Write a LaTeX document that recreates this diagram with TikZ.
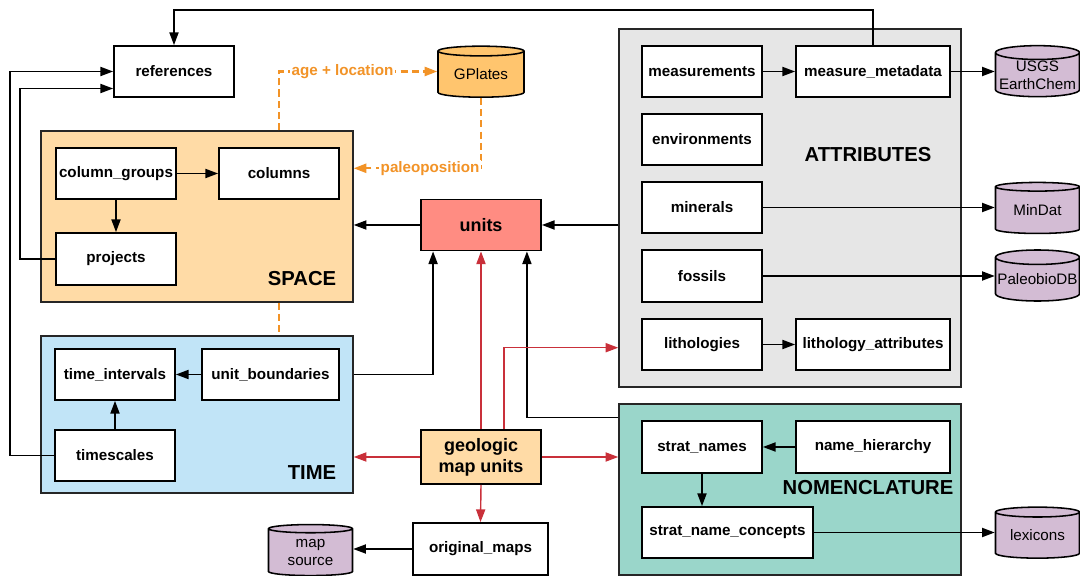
\documentclass[tikz,border=0pt]{standalone}
\usepackage{fontspec}
\setmainfont{Liberation Sans}
\usetikzlibrary{shapes.geometric,arrows.meta,calc}
\definecolor{spaceC}{HTML}{FFDBA6}
\definecolor{timeC}{HTML}{C1E4F7}
\definecolor{attrC}{HTML}{E6E6E6}
\definecolor{nomenC}{HTML}{9AD6CA}
\definecolor{unitsC}{HTML}{FF8C82}
\definecolor{plateC}{HTML}{FFC56E}
\definecolor{dbC}{HTML}{D3BCD4}
\definecolor{orgC}{HTML}{F29327}
\definecolor{redC}{HTML}{C9303A}

\begin{document}
\begin{tikzpicture}[x=0.025cm, y=-0.025cm]
  \tikzset{tbl/.style={draw, line width=1.3pt, fill=white, minimum width=3cm, minimum height=1.275cm, inner sep=1pt, font=\fontsize{10.8}{13}\selectfont\bfseries},
    grp/.style={draw=black!85, line width=1pt, inner sep=0pt},
    grpLbl/.style={font=\fontsize{14.4}{16}\selectfont\bfseries},
    db/.style={cylinder, shape border rotate=90, aspect=0.18, draw, line width=1.1pt, fill=dbC, minimum width=2.1cm, minimum height=1.275cm, inner sep=0pt, align=center, font=\fontsize{10.8}{13}\selectfont},
    arr/.style={line width=1pt, -{Triangle[length=9pt,width=6.5pt]}},
    redArr/.style={arr, draw=redC},
    orgLine/.style={draw=orgC, line width=1.6pt, dash pattern=on 5pt off 3pt},
    orgLbl/.style={fill=white, text=orgC, inner sep=1pt, font=\fontsize{10.8}{13}\selectfont\bfseries}}
  \useasboundingbox (0,0) rectangle (1080,576);
  % groepen
  \node[grp, fill=spaceC, minimum width=7.8cm, minimum height=4.275cm] (space) at (197,216.5) {};
  \node[grp, fill=timeC, minimum width=7.8cm, minimum height=3.925cm] (time) at (197,414.5) {};
  \node[grp, fill=attrC, minimum width=8.55cm, minimum height=8.95cm] (attr) at (790,208) {};
  \node[grp, fill=nomenC, minimum width=8.55cm, minimum height=4.275cm] (nomen) at (790,489.5) {};
  \node[grpLbl] (spaceLbl) at (302,279) {SPACE};
  \node[grpLbl] (timeLbl) at (312,473) {TIME};
  \node[grpLbl] (attrLbl) at (868,155) {ATTRIBUTES};
  \node[grpLbl] (nomenLbl) at (868,488) {NOMENCLATURE};
  % tabellen
  \node[tbl] (refs) at (174,71.5) {references};
  \node[tbl] (colGroups) at (116,173.5) {column\_groups};
  \node[tbl] (cols) at (279,173.5) {columns};
  \node[tbl, minimum height=1.3cm] (proj) at (116,259) {projects};
  \node[tbl, fill=unitsC, font=\fontsize{12.8}{15}\selectfont\bfseries] (units) at (481,225) {units};
  \node[tbl] (tInt) at (115,374.5) {time\_intervals};
  \node[tbl, minimum width=3.425cm] (uBound) at (270.5,374.5) {unit\_boundaries};
  \node[tbl] (tScale) at (115,455.5) {timescales};
  \node[tbl, fill=spaceC, minimum height=1.35cm, align=center, font=\fontsize{12.8}{15}\selectfont\bfseries] (gmu) at (481,457) {geologic\\map units};
  \node[tbl, minimum width=3.375cm, minimum height=1.3cm] (oMaps) at (480.5,549) {original\_maps};
  \node[tbl] (meas) at (702,71.5) {measurements};
  \node[tbl, minimum width=3.85cm] (measMeta) at (873,71.5) {measure\_metadata};
  \node[tbl] (env) at (702,139.5) {environments};
  \node[tbl] (minerals) at (702,207.5) {minerals};
  \node[tbl, minimum height=1.3cm] (fossils) at (702,276) {fossils};
  \node[tbl] (lith) at (702,344.5) {lithologies};
  \node[tbl, minimum width=3.85cm] (lithAttr) at (873,344.5) {lithology\_attributes};
  \node[tbl, minimum height=1.3cm] (sNames) at (702,447) {strat\_names};
  \node[tbl, minimum width=3.85cm, minimum height=1.3cm] (nHier) at (873,447) {name\_hierarchy};
  \node[tbl, minimum width=4.275cm] (sConc) at (727.5,532.5) {strat\_name\_concepts};
  % databronnen
  \node[db, fill=plateC, minimum width=2.15cm] (gplates) at (481,74.5) {GPlates};
  \node[db] (usgs) at (1037.5,75) {USGS\\EarthChem};
  \node[db] (minDat) at (1037.5,210.5) {MinDat};
  \node[db] (pbdb) at (1037.5,279.5) {PaleobioDB};
  \node[db] (lexicons) at (1037.5,535.5) {lexicons};
  \node[db] (mapSrc) at (310.5,552.5) {map\\source};
  % verbindingen
  \draw[arr] (measMeta.north) -- ++(0,-35) -| (refs.north);
  \draw[arr] (tScale.west) -- ++(-44,0) |- (refs.west);
  \draw[arr] (proj.west) -- ++(-35,0) |- ([yshift=-0.425cm]refs.west);
  \draw[arr] (colGroups.east) -- (cols.west);
  \draw[arr] (colGroups.south) -- (proj.north);
  \draw[arr] (units.west) -- (units.west -| space.east);
  \draw[arr] (units.east -| attr.west) -- (units.east);
  \draw[arr] (uBound.east -| time.east) -| ([xshift=0.325cm]units.south west);
  \draw[arr] ([yshift=-0.35cm]nomen.north west) -| ([xshift=-0.375cm]units.south east);
  \draw[arr] (uBound.west) -- (tInt.east);
  \draw[arr] (tScale.north) -- (tInt.south);
  \draw[arr] (oMaps.west) -- (oMaps.west -| mapSrc.east);
  \draw[arr] (meas.east) -- (measMeta.west);
  \draw[arr] (measMeta.east) -- (measMeta.east -| usgs.west);
  \draw[arr] (minerals.east) -- (minerals.east -| minDat.west);
  \draw[arr] (fossils.east) -- (fossils.east -| pbdb.west);
  \draw[arr] (lith.east) -- (lithAttr.west);
  \draw[arr] (nHier.west) -- (sNames.east);
  \draw[arr] (sNames.south) -- (sNames.south |- sConc.north);
  \draw[arr] (sConc.east) -- (sConc.east -| lexicons.west);
  % kaarteenheden
  \draw[redArr] (gmu.north) -- (units.south);
  \draw[redArr] ([xshift=0.575cm]gmu.north) |- ([yshift=-0.08cm]lith.west -| attr.west);
  \draw[redArr] (gmu.west) -- (gmu.west -| time.east);
  \draw[redArr] (gmu.east) -- (gmu.east -| nomen.west);
  \draw[redArr] (gmu.south) -- (oMaps.north);
  % paleogeografie
  \draw[orgLine, -{Triangle[length=9pt,width=6.5pt]}] ([xshift=5.975cm]space.north west) |- node[orgLbl, pos=0.7] (ageLoc) {age + location} ([yshift=0.075cm]gplates.west);
  \draw[orgLine, -{Triangle[length=9pt,width=6.5pt]}] (gplates.south) |- node[orgLbl, pos=0.7] (paleo) {paleoposition} ([yshift=-0.95cm]space.north east);
  \draw[orgLine] ([xshift=5.975cm]space.south west) -- ([xshift=5.975cm]time.north west);
\end{tikzpicture}
\end{document}
